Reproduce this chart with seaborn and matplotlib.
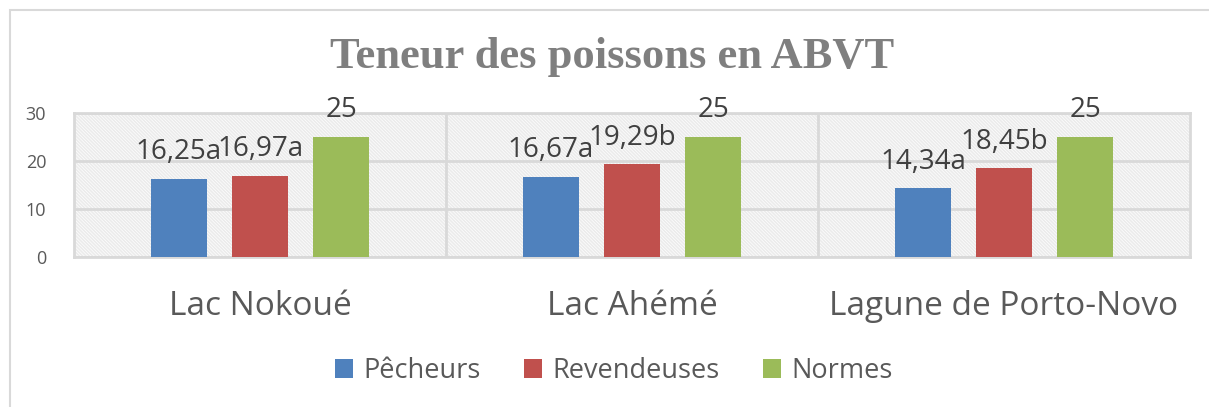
import matplotlib
matplotlib.use("Agg")
import matplotlib.pyplot as plt
import matplotlib.patches as mpatches
import seaborn as sns
import pandas as pd

# Data
sites = ["Lac Nokoué", "Lac Ahémé", "Lagune de Porto-Novo"]
groups = ["Pêcheurs", "Revendeuses", "Normes"]
pecheurs = [16.25, 16.67, 14.34]
revendeuses = [16.97, 19.29, 18.45]
normes = [25, 25, 25]
pecheurs_letters = ["a", "a", "a"]
revendeuses_letters = ["a", "b", "b"]
yticks = [0, 10, 20, 30]

colors = ["#4f81bd", "#c0504d", "#9bbb59"]
text_color = "#404040"

df = pd.DataFrame({
    "site": sites * 3,
    "groupe": [groups[0]] * 3 + [groups[1]] * 3 + [groups[2]] * 3,
    "valeur": pecheurs + revendeuses + normes,
})
labels = (
    [f"{v:.2f}".replace(".", ",") + l for v, l in zip(pecheurs, pecheurs_letters)]
    + [f"{v:.2f}".replace(".", ",") + l for v, l in zip(revendeuses, revendeuses_letters)]
    + [f"{v:g}" for v in normes]
)

sns.set_theme(style="white")
plt.rcParams["font.family"] = ["Open Sans", "DejaVu Sans"]
plt.rcParams["hatch.linewidth"] = 1.2
plt.rcParams["hatch.color"] = "#ebebeb"

fig = plt.figure(figsize=(12.09, 4.07), dpi=100)
ax = fig.add_axes([74 / 1209, 1 - 257 / 407, (1190 - 74) / 1209, (257 - 113) / 407])

# Outer chart frame
fig.patches.append(mpatches.Rectangle((10 / 1209, -0.05), 1.1, 1 - 10 / 407 + 0.05,
                                      transform=fig.transFigure, fill=False,
                                      edgecolor="#d9d9d9", linewidth=1.5, zorder=0))

# Hatched plot background
ax.add_patch(mpatches.Rectangle((0, 0), 1, 1, transform=ax.transAxes, facecolor="white",
                                edgecolor="#ebebeb", hatch="\\" * 10, linewidth=0, zorder=0))

sns.barplot(data=df, x="site", y="valeur", hue="groupe", palette=colors,
            width=0.654, gap=0.3, ax=ax, saturation=1, zorder=3, legend=True,
            linewidth=0)

for cont, labs in zip(ax.containers, [labels[0:3], labels[3:6], labels[6:9]]):
    ax.bar_label(cont, labels=labs, padding=9, fontsize=20, color=text_color,
                 family=["Open Sans", "DejaVu Sans"])

ax.set_ylim(0, 30)
ax.set_xlim(-0.5, 2.5)
ax.set_yticks(yticks)
ax.yaxis.grid(True, color="#d9d9d9", linewidth=2, zorder=1)
ax.set_axisbelow(True)
for x in [0.5, 1.5]:
    ax.axvline(x, color="#d9d9d9", linewidth=2, zorder=1)
for s in ax.spines.values():
    s.set_color("#d9d9d9")
    s.set_linewidth(2)
ax.tick_params(axis="y", labelsize=13, labelcolor="#595959", length=0, pad=20)
ax.tick_params(axis="x", labelsize=24, labelcolor="#595959", length=0, pad=24)
ax.set_xlabel("")
ax.set_ylabel("")

fig.text(0.506, 1 - 57 / 407, "Teneur des poissons en ABVT", ha="center", va="center",
         fontsize=32, fontweight="bold", color="#7f7f7f", family="Liberation Serif")

leg = ax.legend(loc="center", bbox_to_anchor=(0.508, 1 - 371 / 407), bbox_transform=fig.transFigure,
                ncol=3, frameon=False, fontsize=19.5, handlelength=0.65, handleheight=0.65,
                columnspacing=1.6, handletextpad=0.4)
for t in leg.get_texts():
    t.set_color("#595959")

fig.savefig("out.png", dpi=100)
